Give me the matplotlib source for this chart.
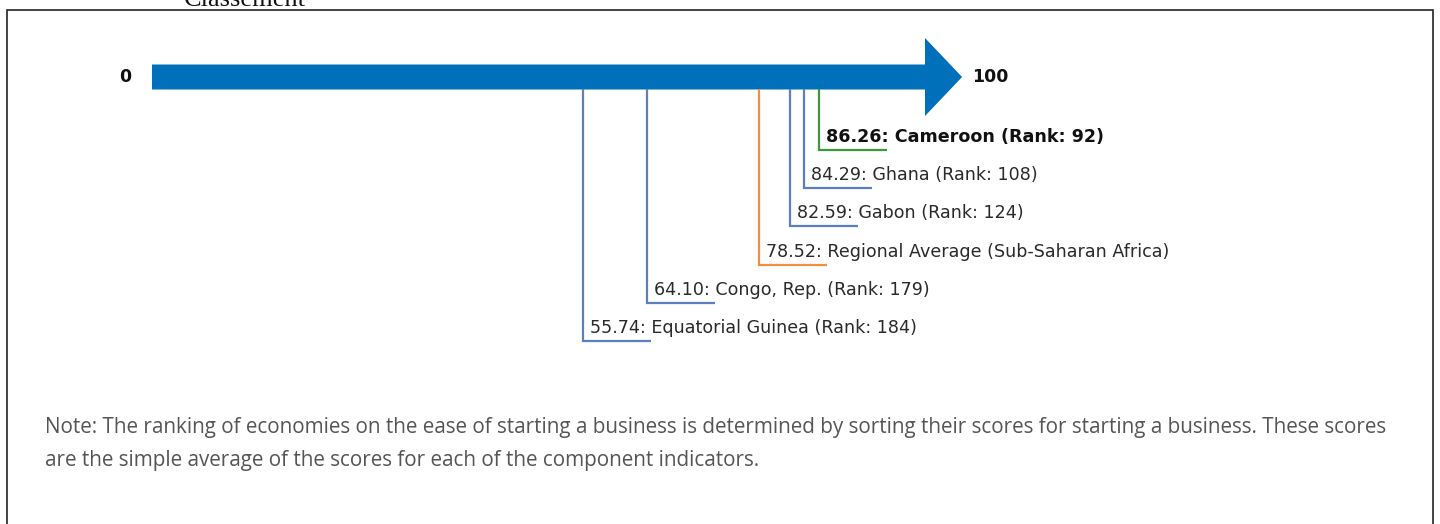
import matplotlib
matplotlib.use("Agg")
import matplotlib.pyplot as plt
from matplotlib.patches import FancyArrow, Rectangle

# ---- data ----
countries = ["Cameroon", "Ghana", "Gabon", "Regional Average (Sub-Saharan Africa)",
             "Congo, Rep.", "Equatorial Guinea"]
scores = [86.26, 84.29, 82.59, 78.52, 64.10, 55.74]
ranks = [92, 108, 124, None, 179, 184]
highlight = [True, False, False, False, False, False]
line_colors = ["#3a9a3a", "#5b7fc0", "#5b7fc0", "#f0913a", "#5b7fc0", "#5b7fc0"]
scale_min, scale_max = 0, 100
title = "Classement"
note = ("Note: The ranking of economies on the ease of starting a business is determined by sorting their scores for starting a business. These scores\n"
        "are the simple average of the scores for each of the component indicators.")

W, H = 1440, 524
fig = plt.figure(figsize=(W / 100, H / 100), dpi=100)
ax = fig.add_axes([0, 0, 1, 1])
px0, px100 = 152, 925
ppu = (px100 - px0) / (scale_max - scale_min)
ax.set_xlim(-px0 / ppu, (W - px0) / ppu)
ax.set_ylim(H, 0)
ax.axis("off")

# frame
fig.patches.append(Rectangle((7 / W, -0.1), (1433 - 7) / W, 1 - 10 / H + 0.1,
                             transform=fig.transFigure, fill=False,
                             edgecolor="#222222", linewidth=1.2))
fig.text(245 / W, 1 - 6 / H, title, family="Liberation Serif", fontsize=19,
         ha="center", va="baseline", color="#111111")

# arrow
arrow_y = 77
ax.add_patch(FancyArrow(scale_min, arrow_y, (scale_max - scale_min) * 1.048, 0,
                        width=25, head_width=78, head_length=(scale_max - scale_min) * 0.048,
                        length_includes_head=True, color="#0070bb", linewidth=0))
ax.text(scale_min - 27 / ppu, arrow_y, str(scale_min), ha="center", va="center",
        fontsize=12.5, fontweight="bold", color="#111111")
ax.text(scale_max * 1.048 + 10 / ppu, arrow_y, str(scale_max), ha="left", va="center",
        fontsize=12.5, fontweight="bold", color="#111111")

# leaders
top_y = arrow_y + 12
seg = 68 / ppu
for i, (c, s, r, hl, col) in enumerate(zip(countries, scores, ranks, highlight, line_colors)):
    ly = 150 + i * 38.2
    ax.plot([s, s, s + seg], [top_y, ly, ly], color=col, linewidth=1.6,
            solid_joinstyle="miter", solid_capstyle="butt")
    lab = f"{s:.2f}: {c}" + (f" (Rank: {r})" if r is not None else "")
    ax.text(s + 7 / ppu, ly - 8, lab, ha="left", va="baseline", fontsize=12.6,
            fontweight="bold" if hl else "normal", color="#111111" if hl else "#2a2a2a")

fig.text(45 / W, 1 - 444 / H, note, family="Open Sans", fontsize=14.9, color="#555555",
         ha="left", va="center", linespacing=1.7)

fig.savefig("out.png", dpi=100)
